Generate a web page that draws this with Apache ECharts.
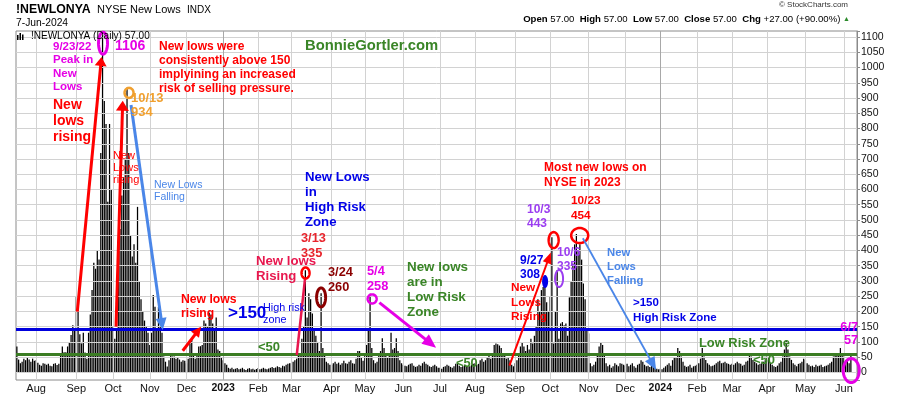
<!DOCTYPE html>
<html><head><meta charset="utf-8">
<script src="https://cdn.jsdelivr.net/npm/echarts@6/dist/echarts.min.js"></script>
<style>html,body{margin:0;padding:0;background:#fff}#c{width:900px;height:396px}</style>
</head><body><div id="c"></div>
<script>
// ---- Data: NYSE New Lows, daily values per month (trading days) ----
const jul22 = [85, 42, 30, 35, 45, 40, 48, 42, 35, 45, 38];
const aug22 = [40, 32, 25, 22, 30, 28, 25, 28, 22, 20, 28, 30, 24, 28, 60, 85, 66, 66, 85, 100, 123, 155, 140];
const sep22 = [248, 205, 125, 95, 130, 65, 45, 130, 190, 270, 360, 340, 400, 370, 720, 1106, 890, 815, 560, 815, 600];
const oct22 = [150, 110, 140, 380, 470, 580, 640, 700, 934, 720, 450, 380, 420, 360, 543, 300, 240, 200, 170, 150, 130];
const nov22 = [90, 130, 254, 215, 140, 215, 150, 130, 52, 35, 19, 40, 55, 52, 52, 45, 50, 42, 35, 40, 38];
const dec22 = [30, 45, 95, 106, 60, 45, 60, 85, 86, 90, 170, 160, 150, 196, 190, 160, 140, 180, 75, 70, 50];
const jan23 = [40, 30, 25, 15, 12, 15, 10, 12, 14, 10, 12, 15, 10, 8, 12, 14, 10, 12, 9, 11];
const feb23 = [14, 10, 12, 15, 12, 10, 13, 15, 18, 14, 16, 20, 18, 15, 22, 20, 25, 28, 30];
const mar23 = [30, 35, 40, 45, 55, 60, 110, 150, 335, 180, 260, 240, 193, 140, 120, 100, 70, 260, 80, 55, 35, 30, 25];
const apr23 = [25, 30, 35, 28, 32, 25, 30, 38, 30, 28, 35, 40, 30, 28, 45, 70, 70, 50, 38];
const may23 = [60, 90, 140, 258, 80, 40, 30, 35, 60, 70, 112, 80, 60, 50, 55, 130, 75, 80, 112, 70, 40, 30];
const jun23 = [25, 22, 20, 25, 28, 30, 22, 18, 20, 25, 22, 30, 35, 28, 25, 20, 18, 22, 25, 20, 15];
const jul23 = [15, 12, 18, 20, 25, 22, 18, 15, 20, 28, 30, 22, 18, 20, 25, 22, 18, 20, 25, 28];
const aug23 = [30, 25, 28, 40, 45, 35, 40, 50, 55, 45, 60, 90, 95, 92, 88, 80, 60, 55, 45, 50, 40, 25, 20];
const sep23 = [30, 40, 60, 85, 100, 85, 70, 90, 75, 110, 95, 120, 150, 240, 200, 270, 280, 308, 230, 200];
const oct23 = [250, 443, 95, 200, 335, 110, 160, 165, 155, 160, 120, 246, 300, 357, 420, 454, 400, 420, 370, 292, 240, 139];
const nov23 = [128, 30, 20, 25, 35, 60, 85, 100, 90, 60, 30, 20, 25, 15, 20, 30, 25, 20, 30, 28, 25];
const dec23 = [22, 28, 20, 25, 30, 20, 15, 25, 28, 40, 35, 25, 20, 22, 18, 25, 20, 15, 12, 10];
const jan24 = [12, 10, 15, 20, 25, 30, 22, 40, 48, 50, 80, 70, 52, 35, 22, 18, 20, 25, 15, 20, 22];
const feb24 = [25, 30, 45, 80, 52, 41, 30, 25, 20, 22, 25, 30, 35, 38, 30, 32, 35, 30, 28, 25];
const mar24 = [28, 25, 30, 35, 30, 28, 22, 25, 35, 38, 57, 52, 41, 35, 30, 25, 28, 30, 35, 40];
const apr24 = [52, 50, 30, 25, 20, 18, 22, 30, 35, 52, 75, 105, 75, 52, 41, 30, 25, 20, 28, 30, 35, 45];
const may24 = [41, 30, 25, 20, 22, 18, 25, 20, 22, 25, 18, 20, 22, 25, 30, 35, 52, 55, 63, 63, 80, 63];
const jun24 = [52, 41, 45, 30, 57];

const monthKeys = ['2022-07','2022-08','2022-09','2022-10','2022-11','2022-12','2023-01','2023-02','2023-03','2023-04','2023-05','2023-06','2023-07','2023-08','2023-09','2023-10','2023-11','2023-12','2024-01','2024-02','2024-03','2024-04','2024-05','2024-06'];
const monthLabels = ['', 'Aug','Sep','Oct','Nov','Dec','2023','Feb','Mar','Apr','May','Jun','Jul','Aug','Sep','Oct','Nov','Dec','2024','Feb','Mar','Apr','May','Jun'];
const yTickLabels = [0,50,100,150,200,250,300,350,400,450,500,550,600,650,700,750,800,850,900,950,1000,1050,1100];
const highRiskLevel = 140;
const lowRiskLevel = 60;

const monthly = [jul22,aug22,sep22,oct22,nov22,dec22,jan23,feb23,mar23,apr23,may23,jun23,jul23,aug23,sep23,oct23,nov23,dec23,jan24,feb24,mar24,apr24,may24,jun24];
const values = [], categories = [], labelAt = {};
monthly.forEach((arr, m) => {
  if (monthLabels[m]) labelAt[values.length] = monthLabels[m];
  arr.forEach((v, k) => { categories.push(monthKeys[m] + '-' + (k + 1)); values.push(v); });
});
for (let k = 0; k < 3; k++) categories.push('pad' + k);
const monthStartIdx = Object.keys(labelAt).map(Number);
const isYear = i => /^\d{4}$/.test(labelAt[i]);

const FONT = "'Liberation Sans', Arial, Helvetica, sans-serif";
const GRID = '#d2d2d2';
const chart = echarts.init(document.getElementById('c'), null, {renderer: 'canvas'});
chart.setOption({
  animation: false,
  backgroundColor: '#fff',
  grid: {left: 16, right: 43, top: 31, bottom: 16, show: true, borderColor: '#8a8a8a', borderWidth: 1},
  xAxis: {
    type: 'category', data: categories, boundaryGap: true,
    axisLine: {show: false}, axisTick: {show: false},
    axisLabel: {
      interval: (i) => labelAt[i] !== undefined,
      formatter: (v, i) => { const t = labelAt[i] || ''; return /^\d{4}$/.test(t) ? '{y|' + t + '}' : t; },
      margin: 3, color: '#111', fontSize: 11, fontFamily: FONT,
      rich: {y: {fontWeight: 'bold', fontSize: 10.5, fontFamily: FONT, color: '#111'}}
    },
    splitLine: {show: false}
  },
  yAxis: {
    type: 'value', position: 'right', min: -25, max: 1120, splitNumber: 22,
    axisLine: {show: true, lineStyle: {color: '#8a8a8a'}},
    axisTick: {show: true, length: 3, lineStyle: {color: '#8a8a8a'}},
    axisLabel: {formatter: v => yTickLabels.includes(v) ? String(v) : '', margin: 4, color: '#111', fontSize: 10.5, fontFamily: FONT},
    splitLine: {show: false}
  },
  series: [
    {
      // background grid drawn beneath the bars
      type: 'line', data: [], z: 1, silent: true, showSymbol: false,
      markLine: {
        silent: true, symbol: ['none', 'none'], label: {show: false}, animation: false,
        data: [
          ...yTickLabels.map(v => ({yAxis: v, lineStyle: {color: GRID, width: 1, type: 'solid'}})),
          ...monthStartIdx.map(i => ({xAxis: categories[i], lineStyle: {color: isYear(i) ? '#a8a8a8' : GRID, width: 1, type: 'solid'}}))
        ]
      }
    },
    {
      type: 'bar', data: values, barCategoryGap: '28%', silent: true, z: 3,
      itemStyle: {color: '#000'},
      markLine: {
        silent: true, symbol: ['none', 'none'], label: {show: false}, animation: false,
        data: [
          {yAxis: highRiskLevel, lineStyle: {color: '#0000dd', width: 3, type: 'solid'}},
          {yAxis: lowRiskLevel, lineStyle: {color: '#3b7d23', width: 3, type: 'solid'}}
        ]
      }
    }
  ]
});

// ---- annotations ----
const p0 = chart.convertToPixel({seriesIndex: 1}, [0, 0]);
const p1 = chart.convertToPixel({seriesIndex: 1}, [100, 1000]);
const X = i => p0[0] + i * (p1[0] - p0[0]) / 100;
const Y = v => p0[1] + v * (p1[1] - p0[1]) / 1000;

const MAG = '#e600e6', RED = '#ff0000', CRIM = '#e8174e', ORANGE = '#f0a030', BLUE = '#0000e8',
      CORN = '#4a86e8', GREEN = '#3a8527', DKRED = '#8b0000', PURPLE = '#9b3df0';

function txt(x, yc, text, color, size, o = {}) {
  const lh = o.lh || size + 2;
  return {type: 'text', x: x, y: yc - lh / 2, silent: true, z: 120,
    style: {text: text, fill: color, fontSize: size, fontWeight: o.weight || 'bold', fontFamily: FONT,
      lineHeight: lh, align: o.align || 'left', verticalAlign: 'top', textAlign: o.align || 'left', textVerticalAlign: 'top'}};
}
function ellipse(i, v, rx, ry, color, lw, filled) {
  const cx = X(i), cy = Y(v), pts = [];
  for (let k = 0; k < 48; k++) { const t = k / 48 * 2 * Math.PI; pts.push([cx + rx * Math.cos(t), cy + ry * Math.sin(t)]); }
  return {type: 'polygon', silent: true, z: 110, shape: {points: pts},
    style: filled ? {fill: color} : {fill: 'none', stroke: color, lineWidth: lw}};
}
function arrow(a, b, color, lw, hl, hw) {
  const x1 = X(a[0]), y1 = Y(a[1]), x2 = X(b[0]), y2 = Y(b[1]);
  const dx = x2 - x1, dy = y2 - y1, L = Math.hypot(dx, dy), ux = dx / L, uy = dy / L;
  const els = [];
  if (hl > 0) {
    const bx = x2 - ux * hl, by = y2 - uy * hl;
    els.push({type: 'line', silent: true, z: 110, shape: {x1: x1, y1: y1, x2: bx + ux, y2: by + uy}, style: {stroke: color, lineWidth: lw}});
    els.push({type: 'polygon', silent: true, z: 111, shape: {points: [[x2, y2], [bx - uy * hw / 2, by + ux * hw / 2], [bx + uy * hw / 2, by - ux * hw / 2]]}, style: {fill: color}});
  } else {
    els.push({type: 'line', silent: true, z: 110, shape: {x1: x1, y1: y1, x2: x2, y2: y2}, style: {stroke: color, lineWidth: lw}});
  }
  return els;
}

const g = [];
// header
g.push(txt(16, 10, '!NEWLONYA', '#000', 12.3));
g.push(txt(97, 10, 'NYSE New Lows', '#000', 11, {weight: 'normal'}));
g.push(txt(187, 10, 'INDX', '#000', 10, {weight: 'normal'}));
g.push(txt(16, 23, '7-Jun-2024', '#000', 10.3, {weight: 'normal'}));
g.push(txt(848, 5, '\u00a9 StockCharts.com', '#333', 8, {weight: 'normal', align: 'right'}));
g.push({type: 'text', x: 850, y: 14, silent: true, z: 120, style: {
  text: '{b|Open} 57.00  {b|High} 57.00  {b|Low} 57.00  {b|Close} 57.00  {b|Chg} +27.00 (+90.00%) {t|\u25b2}',
  fill: '#000', fontSize: 9.6, fontFamily: FONT, align: 'right', verticalAlign: 'top', textAlign: 'right', textVerticalAlign: 'top',
  rich: {b: {fontWeight: 'bold', fontSize: 9.6, fontFamily: FONT, fill: '#000'}, t: {fontSize: 7, fill: '#2a8a2a'}}}});
// legend
g.push({type: 'rect', silent: true, z: 120, shape: {x: 17, y: 35, width: 1.5, height: 5}, style: {fill: '#000'}});
g.push({type: 'rect', silent: true, z: 120, shape: {x: 19.5, y: 33, width: 1.5, height: 7}, style: {fill: '#000'}});
g.push({type: 'rect', silent: true, z: 120, shape: {x: 22, y: 34.5, width: 1.5, height: 5.5}, style: {fill: '#000'}});
g.push(txt(31, 36, '!NEWLONYA (Daily) 57.00', '#000', 10, {weight: 'normal'}));

// left-side annotations
g.push(ellipse(49.27, 1080, 4.5, 11, MAG, 3));
g.push(txt(53, 47, '9/23/22\nPeak in\nNew\nLows', MAG, 11.5, {lh: 13.3}));
g.push(txt(115, 46, '1106', MAG, 14));
g.push(txt(159, 47, 'New lows were\nconsistently above 150\nimplyining an increased\nrisk of selling pressure.', RED, 12, {lh: 14}));
g.push(txt(305, 46, 'BonnieGortler.com', GREEN, 14.8));
g.push(txt(53, 105, 'New\nlows\nrising', RED, 14, {lh: 16}));
g.push(ellipse(64.15, 917, 4.5, 5, ORANGE, 2.5));
g.push(txt(131, 98, '10/13\n934', ORANGE, 13, {lh: 14}));
g.push(txt(113, 156, 'New\nLows\nrising', RED, 11, {weight: 'normal', lh: 12}));
g.push(txt(154, 185, 'New Lows\nFalling', CORN, 10.5, {weight: 'normal', lh: 12}));
g.push(...arrow([34.57, 199], [48.41, 1035], RED, 3, 9, 12));
g.push(...arrow([56.71, 150], [60.54, 891], RED, 3, 10, 13));
g.push(...arrow([65.29, 877], [83.43, 139], CORN, 3, 12, 11));

g.push(txt(181, 300, 'New lows\nrising', RED, 12.2, {lh: 14}));
g.push(...arrow([94.86, 71], [105.33, 150], RED, 3, 10, 10));
g.push(txt(228, 313, '>150', BLUE, 17));
g.push(txt(263, 308, 'High risk\nzone', BLUE, 10.8, {weight: 'normal', lh: 12}));
g.push(txt(258, 347, '<50', GREEN, 13));
g.push(txt(256, 261, 'New lows\nRising', CRIM, 13.2, {lh: 15}));
g.push(...arrow([160.08, 57], [164.83, 309], CRIM, 2.5, 0, 0));
g.push(ellipse(165.1, 326, 4, 5.5, RED, 2.5));
g.push(txt(301, 238, '3/13\n335', '#e8242c', 12.8, {lh: 15}));
g.push(ellipse(174, 246, 4.5, 9.5, DKRED, 3));
g.push(txt(328, 272, '3/24\n260', DKRED, 12.8, {lh: 15}));
g.push(txt(305, 177, 'New Lows\nin\nHigh Risk\nZone', BLUE, 13.2, {lh: 15}));

g.push(ellipse(203.2, 241, 4.5, 4.5, MAG, 2.5));
g.push(txt(367, 271, '5/4\n258', MAG, 12.8, {lh: 15}));
g.push(...arrow([207.34, 229], [239.77, 81], MAG, 3, 14, 12));
g.push(txt(407, 267, 'New lows\nare in\nLow Risk\nZone', GREEN, 13.4, {lh: 15}));
g.push(txt(456, 363, '<50', GREEN, 12.8));

// right-side annotations
g.push(txt(511, 288, 'New\nLows\nRising', RED, 11.8, {lh: 14.5}));
g.push(...arrow([281.71, 22], [305.39, 393], RED, 2, 11, 9));
g.push(txt(520, 261, '9/27\n308', BLUE, 12, {lh: 13.5}));
g.push(ellipse(302.1, 298, 3, 6.5, BLUE, 0, true));
g.push(txt(527, 210, '10/3\n443', PURPLE, 12, {lh: 14}));
g.push(ellipse(307, 434, 5, 8, RED, 2.5));
g.push(txt(557, 253, '10/6\n335', PURPLE, 12, {lh: 14}));
g.push(ellipse(310.1, 308, 4, 8.5, PURPLE, 2));
g.push(txt(544, 168, 'Most new lows on\nNYSE in 2023', RED, 12, {lh: 14.5}));
g.push(txt(571, 201, '10/23\n454', RED, 11.8, {lh: 14.3}));
g.push(ellipse(321.9, 449, 8.5, 7.5, RED, 2.5));
g.push(...arrow([323.7, 440], [365.6, 8], CORN, 1.8, 13, 11));
g.push(txt(607, 253, 'New\nLows\nFalling', CORN, 11.3, {lh: 14}));
g.push(txt(633, 303, '>150\nHigh Risk Zone', BLUE, 11.5, {lh: 14.5}));
g.push(txt(699, 343, 'Low Risk Zone', GREEN, 12.9));
g.push(txt(753, 360, '<50', GREEN, 13));
g.push(txt(858, 327, '6/7\n57', MAG, 12.7, {lh: 13.5, align: 'right'}));
g.push(ellipse(477.2, 6, 8, 12, MAG, 3));

chart.setOption({graphic: g});
</script>
</body></html>
